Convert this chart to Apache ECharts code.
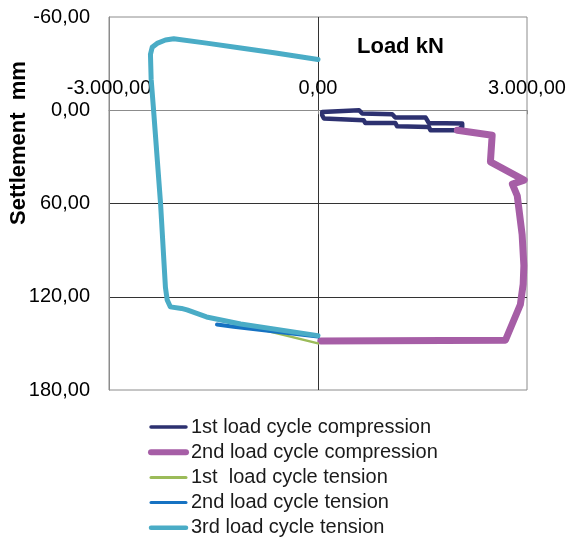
<!DOCTYPE html>
<html>
<head>
<meta charset="utf-8">
<script src="https://cdn.jsdelivr.net/npm/echarts@6/dist/echarts.min.js"></script>
<style>
html,body{margin:0;padding:0;background:#fff;}
#chart{width:567px;height:539px;}
</style>
</head>
<body>
<div id="chart"></div>
<script>
// ---- data (Load kN, Settlement mm) ----
const comp1Load   = [60, 590, 635, 1065, 1110, 1545, 1590, 2070, 2070, 2000, 1615, 1590, 1135, 1110, 680, 655, 85, 60, 60];
const comp1Settle = [1.1, 0.0, 2.1, 2.6, 4.7, 4.7, 8.2, 8.6, 10.7, 12.9, 12.9, 10.7, 10.3, 8.2, 8.2, 6.4, 5.3, 3.2, 1.1];

const comp2Load   = [2000, 2500, 2475, 2960, 2790, 2860, 2930, 2955, 2945, 2905, 2690, 40];
const comp2Settle = [12.9, 16.1, 33.2, 45, 47.5, 55, 80, 100, 112, 125, 148, 148.5];

const tens1Load   = [0, -1000];
const tens1Settle = [150, 139];

const tens2Load   = [0, -1210, -1450];
const tens2Settle = [145.6, 139.3, 137.8];

const tens3Load   = [0, -1110, -1600, -1880, -1960, -2120, -2165, -2190, -2260, -2360, -2395, -2405, -2380, -2310, -2190, -2070, -1600, -1110, -630, 0];
const tens3Settle = [145, 137.5, 133, 128.5, 127.5, 126.5, 122, 114, 60, 0, -20, -36, -40.5, -43, -45.2, -46, -43.2, -40, -37, -32.6];

const seriesNames = ['1st load cycle compression', '2nd load cycle compression', '1st  load cycle tension', '2nd load cycle tension', '3rd load cycle tension'];

const xTickValues = [-3000, 0, 3000];
const xTickLabels = ['-3.000,00', '0,00', '3.000,00'];
const yTickValues = [-60, 0, 60, 120, 180];
const yTickLabels = ['-60,00', '0,00', '60,00', '120,00', '180,00'];

function pairs(xs, ys) { return xs.map((x, i) => [x, ys[i]]); }
function lookup(vals, labels, v) {
  const i = vals.indexOf(v);
  return i >= 0 ? labels[i] : '';
}

const FONT = 'Liberation Sans, Arial, sans-serif';
const colors = ['#2d3170', '#a65ea6', '#9bbb59', '#1672c2', '#4aacc6'];
const widths = [4.5, 7, 2.5, 4, 5];
const legendWidths = [3.5, 6, 3, 3, 4.5];

// layout
const W = 567, H = 539;
const GRID = {left: 109, right: 40, top: 17, bottom: 149};
const yMin = -60, yMax = 180;
const plotH = H - GRID.top - GRID.bottom;
// x axis sits where settlement = 0 (shift down from top edge of the grid)
const xAxisShift = (0 - yMin) / (yMax - yMin) * plotH;

const chart = echarts.init(document.getElementById('chart'), null, {renderer: 'canvas'});

function lineSeries(i, data) {
  return {
    name: seriesNames[i], type: 'line', data: data, symbol: 'none', showSymbol: false,
    animation: false,
    lineStyle: {color: colors[i], width: widths[i], cap: 'round', join: 'round'},
    itemStyle: {color: colors[i]}
  };
}

chart.setOption({
  animation: false,
  backgroundColor: '#fff',
  title: {
    text: 'Load kN', left: 357, top: 36, padding: 0,
    textStyle: {fontFamily: FONT, fontSize: 22, fontWeight: 'bold', color: '#000'}
  },
  graphic: [{
    type: 'text', x: 19, y: 143, rotation: Math.PI / 2,
    style: {text: 'Settlement  mm', font: 'bold 22px ' + FONT, fill: '#000', align: 'center', verticalAlign: 'middle'}
  }],
  legend: {
    orient: 'vertical', left: 148, top: 417, padding: 0, itemGap: 5.2,
    itemWidth: 35, itemHeight: 14,
    itemStyle: {opacity: 0},
    data: seriesNames.map((n, i) => ({name: n, lineStyle: {width: legendWidths[i], cap: 'round'}})),
    textStyle: {fontFamily: FONT, fontSize: 20, color: '#1a1a1a'}
  },
  grid: Object.assign({show: true, borderColor: '#8c8c8c', borderWidth: 1,
         containLabel: false, outerBoundsMode: 'none'}, GRID),
  xAxis: {
    type: 'value', min: -3000, max: 3000, interval: 3000, position: 'top',
    offset: -xAxisShift,
    axisLine: {show: true, onZero: false, lineStyle: {color: '#8c8c8c', width: 1}},
    axisTick: {show: true, inside: true, length: 4, lineStyle: {color: '#8c8c8c'}},
    axisLabel: {margin: 12, fontFamily: FONT, fontSize: 20, color: '#000',
      formatter: v => lookup(xTickValues, xTickLabels, v)},
    splitLine: {show: true, showMinLine: false, showMaxLine: false, lineStyle: {color: '#333', width: 1}}
  },
  yAxis: {
    type: 'value', min: yMin, max: yMax, interval: 60, inverse: true, position: 'left',
    axisLine: {show: true, onZero: false, lineStyle: {color: '#8c8c8c', width: 1}},
    axisTick: {show: false},
    axisLabel: {margin: 19, fontFamily: FONT, fontSize: 20, color: '#000',
      formatter: v => lookup(yTickValues, yTickLabels, v)},
    splitLine: {show: true, showMinLine: false, showMaxLine: false,
      lineStyle: {color: ['#8c8c8c', '#333', '#333'], width: 1}}
  },
  series: [
    lineSeries(0, pairs(comp1Load, comp1Settle)),
    lineSeries(1, pairs(comp2Load, comp2Settle)),
    lineSeries(2, pairs(tens1Load, tens1Settle)),
    lineSeries(3, pairs(tens2Load, tens2Settle)),
    lineSeries(4, pairs(tens3Load, tens3Settle))
  ]
});
</script>
</body>
</html>
